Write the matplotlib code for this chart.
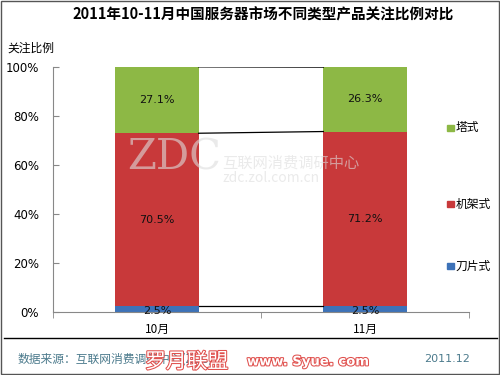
import numpy as np
import matplotlib
matplotlib.use("Agg")
import matplotlib.pyplot as plt
import matplotlib.patheffects as pe

plt.rcParams['font.family'] = ['Noto Sans CJK SC', 'DejaVu Sans']

# données
mois = ['10月', '11月']
series = ['刀片式', '机架式', '塔式']
daopian = [2.5, 2.5]
jijia = [70.5, 71.2]
taishi = [27.1, 26.3]
couleurs = ['#3D72B8', '#C8393A', '#8DB845']

fig = plt.figure(figsize=(5, 3.75), dpi=100)
ax = fig.add_axes([0.106, 0.168, 0.832, 0.653])

x = np.arange(len(mois))
w = 0.4
bas = np.zeros(len(mois))
hauts = []
for nom, vals, c in zip(series, [daopian, jijia, taishi], couleurs):
    vals = np.array(vals)
    ax.bar(x, vals, w, bottom=bas, color=c, label=nom, zorder=2)
    for xi, b, v in zip(x, bas, vals):
        ax.text(xi, b + v / 2 if v > 5 else b + v / 2 - 0.8, f"{v:.1f}%",
                ha='center', va='center', fontsize=8, color='#111111', zorder=4,
                family=['DejaVu Sans'])
    bas = bas + vals
    hauts.append(bas.copy())

# lignes de liaison
for h in hauts:
    ax.plot([x[0] + w / 2, x[1] - w / 2], [h[0], h[1]], color='black', lw=0.9, zorder=3)

ax.set_xlim(-0.5, 1.5)
ax.set_ylim(0, 100)
ax.set_yticks(np.arange(0, 101, 20))
ax.set_yticklabels([f"{v}%" for v in range(0, 101, 20)], fontsize=8.5, family=['DejaVu Sans'])
ax.set_xticks(x)
ax.set_xticklabels(mois, fontsize=8.5)
ax.set_xticks([-0.5, 0.5, 1.5], minor=True)
ax.tick_params(axis='x', which='major', length=0, pad=8)
ax.tick_params(axis='x', which='minor', length=4, color='#888888', direction='out')
ax.tick_params(axis='y', length=4, color='#888888', direction='in', pad=10)
for s in ['top', 'right']:
    ax.spines[s].set_visible(False)
ax.spines['left'].set_color('#888888')
ax.spines['bottom'].set_color('#888888')

# légende
for nom, c, yy in zip(series, couleurs, [0.709, 0.544, 0.341]):
    fig.patches.append(plt.Rectangle((0.893, 1 - yy - 0.009), 0.014, 0.018, color=c,
                                     transform=fig.transFigure, figure=fig))
    fig.text(0.911, 1 - yy, nom, fontsize=8.5, va='center', ha='left')

# filigrane ZDC
wm = dict(color='#DDDDDD', alpha=0.6, zorder=5, va='center', ha='left')
fig.text(0.255, 0.58, 'ZDC', fontsize=30, family='DejaVu Serif', **wm)
fig.text(0.445, 0.565, '互联网消费调研中心', fontsize=11, **wm)
fig.text(0.445, 0.525, 'zdc.zol.com.cn', fontsize=10, **wm)

# titres
fig.text(0.526, 0.962, '2011年10-11月中国服务器市场不同类型产品关注比例对比', fontsize=10.5,
         fontweight='bold', ha='center', va='center')
fig.text(0.014, 0.872, '关注比例', fontsize=8.5, ha='left', va='center')

# ligne de séparation et source
fig.add_artist(plt.Line2D([0.008, 0.994], [0.099, 0.099], color='black', lw=1))
fig.text(0.035, 0.043, '数据来源：互联网消费调研中心(ZDC)', fontsize=8.5, color='#4B7A8C',
         ha='left', va='center')
fig.text(0.848, 0.043, '2011.12', fontsize=8, color='#4B7A8C', ha='left', va='center',
         family=['DejaVu Sans'])
fig.text(0.29, 0.035, '罗月联盟', fontsize=15, color='white', ha='left', va='center',
         path_effects=[pe.withStroke(linewidth=1.5, foreground='#E0504D')])
fig.text(0.494, 0.035, 'www. Syue. com', fontsize=9.5, color='white', ha='left', va='center',
         fontweight='bold', family=['DejaVu Sans'],
         path_effects=[pe.withStroke(linewidth=1.5, foreground='#E0504D')])

# cadre
fig.add_artist(plt.Rectangle((0.002, 0.003), 0.995, 0.994, fill=False, ec='#555555', lw=1,
                             transform=fig.transFigure))

fig.savefig('out.png', dpi=100, facecolor='white')
